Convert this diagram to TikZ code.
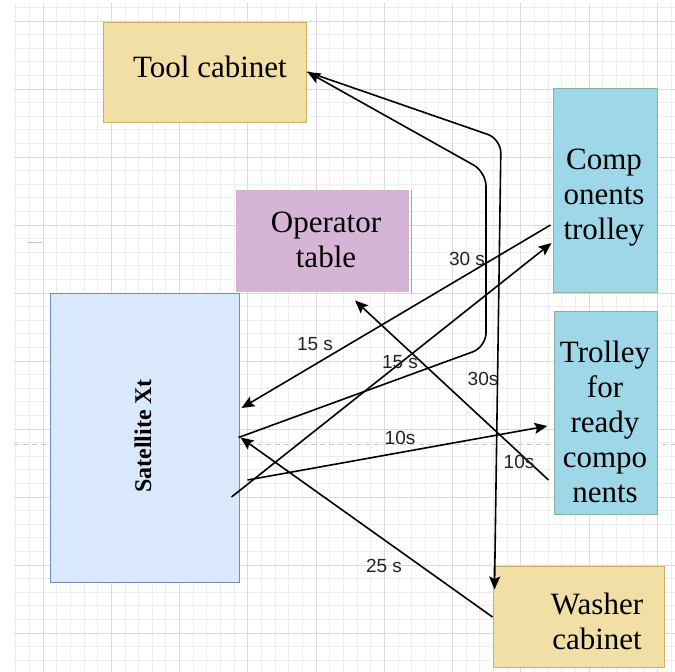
\documentclass[tikz,border=0pt]{standalone}
\usepackage{fontspec}
\setmainfont{Liberation Serif}
\newfontfamily\labelfont{Liberation Sans}
\usetikzlibrary{arrows.meta,calc}

\definecolor{minorgrid}{RGB}{238,238,238}
\definecolor{majorgrid}{RGB}{218,218,218}
\definecolor{cabfill}{RGB}{241,223,166}
\definecolor{cabdraw}{RGB}{205,176,96}
\definecolor{trolfill}{RGB}{158,216,232}
\definecolor{troldraw}{RGB}{135,180,145}
\definecolor{operfill}{RGB}{214,180,213}
\definecolor{satfill}{RGB}{218,232,252}
\definecolor{satdraw}{RGB}{108,142,191}
\definecolor{lblgray}{RGB}{35,35,35}
\definecolor{dashgray}{RGB}{200,200,200}
\definecolor{markteal}{RGB}{170,205,200}

\begin{document}
\begin{tikzpicture}[x=1pt,y=-1pt,
  box/.style={draw, line width=1pt, inner sep=0pt},
  boxtext/.style={font=\fontsize{31}{35}\selectfont, align=center, inner sep=0pt},
  conn/.style={line width=1.6pt, -{Stealth[length=13pt,width=11pt,inset=2.5pt]}},
  lbl/.style={font=\labelfont\fontsize{19}{22}\selectfont, text=lblgray, inner sep=0pt}]
\useasboundingbox (0,0) rectangle (675,672);

% background grid
\begin{scope}
  \clip (14,3) rectangle (675,672);
  \foreach \i in {-3,...,47}
    \draw[minorgrid, line width=0.8pt] ({43+13.65*\i},0) -- ++(0,672);
  \foreach \i in {-2,...,48}
    \draw[minorgrid, line width=0.8pt] (0,{21+13.6*\i}) -- ++(675,0);
  \foreach \i in {-1,...,9}
    \draw[majorgrid, line width=1pt] ({43+68.25*\i},0) -- ++(0,672);
  \foreach \i in {-1,...,9}
    \draw[majorgrid, line width=1pt] (0,{21+68*\i}) -- ++(675,0);
\end{scope}

% guide line and small mark
\draw[dashgray, line width=1pt, dash pattern=on 5pt off 4pt] (14,444) -- (675,444);
\draw[markteal, line width=1pt] (28,242) -- (42,242);

% boxes
\node[box, draw=cabdraw, fill=cabfill, minimum width=203pt, minimum height=100pt] (tool) at (204.5,72) {};
\node[box, draw=troldraw, fill=trolfill, minimum width=104pt, minimum height=204pt] (comp) at (605,190) {};
\node[box, draw=none, fill=operfill, minimum width=173pt, minimum height=102pt] (oper) at (322,241) {};
\draw[gray!70, line width=1pt] ([xshift=2pt]oper.north east) -- ([xshift=2pt]oper.south east);
\node[box, draw=satdraw, fill=satfill, minimum width=189pt, minimum height=289pt] (sat) at (144.5,437.5) {};
\node[box, draw=troldraw, fill=trolfill, minimum width=103pt, minimum height=203pt] (ready) at (605.5,412.5) {};
\node[box, draw=cabdraw, fill=cabfill, minimum width=171pt, minimum height=101pt] (wash) at (578.5,616.5) {};

% box texts
\node[boxtext] (toolT) at (210,67) {Tool cabinet};
\node[boxtext] (compT) at (604,198) {Comp\\onents\\trolley};
\node[boxtext] (operT) at (326,240) {Operator\\table};
\node[boxtext] (readyT) at (605,422) {Trolley\\for\\ready\\compo\\nents};
\node[boxtext] (washT) at (597,621) {Washer\\cabinet};
\node[font=\bfseries\fontsize{24}{28}\selectfont, inner sep=0pt, rotate=90] (satT) at (143,436) {Satellite Xt};

% bend points of the routed connectors
\coordinate (fLow) at (486,347);
\coordinate (fHigh) at (486,172);
\coordinate (gTop) at (501,139);

% connectors
\draw[conn] ([xshift=-2pt,yshift=-35pt]comp.west) -- ([xshift=2pt,yshift=29.5pt]sat.east);
\draw[conn] ([xshift=-8pt,yshift=-59.5pt]sat.east) -- ([xshift=-1pt,yshift=-53pt]comp.west);
\draw[conn] ([xshift=8pt,yshift=-42.5pt]sat.east) -- ([xshift=-6pt,yshift=-13.5pt]ready.west);
\draw[conn] ([xshift=-5pt,yshift=-67.5pt]ready.west) -- ([xshift=33pt,yshift=-8pt]oper.south);
\draw[conn] ([yshift=-0.5pt]wash.west) -- ([xshift=1pt]sat.east);
\draw[conn, rounded corners=14pt] ([xshift=-1pt]sat.east) -- (fLow) -- (fHigh) -- ([xshift=1pt]tool.east);
\draw[conn, rounded corners=14pt] ([xshift=1pt]tool.east) -- (gTop) -- ([xshift=2pt,yshift=-24pt]wash.north west);

% time labels
\node[lbl] (t1) at (467,259) {30 s};
\node[lbl] (t2) at (315,344) {15 s};
\node[lbl] (t3) at (400,362) {15 s};
\node[lbl] (t4) at (483,379) {30s};
\node[lbl] (t5) at (400,438) {10s};
\node[lbl] (t6) at (519,462) {10s};
\node[lbl] (t7) at (384,566) {25 s};
\end{tikzpicture}
\end{document}
